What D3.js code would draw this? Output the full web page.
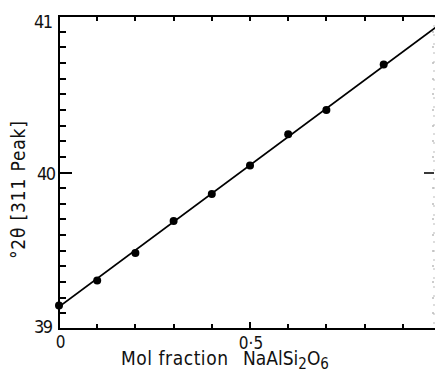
<!DOCTYPE html>
<html>
<head>
<meta charset="utf-8">
<script src="https://cdn.jsdelivr.net/npm/d3@7"></script>
<style>
  body { margin: 0; background: #fff; }
  svg { display: block; }
  text { font-family: "DejaVu Sans Condensed", "DejaVu Sans", sans-serif; font-stretch: condensed; fill: #111; }
</style>
</head>
<body>
<svg width="435" height="372"></svg>
<script>
// measured points, mol fraction vs 2theta
var molFrac = [0, 0.1, 0.2, 0.3, 0.4, 0.5, 0.6, 0.7, 0.85];
var twoTheta = [39.15, 39.31, 39.486, 39.69, 39.862, 40.045, 40.244, 40.40, 40.69];

// fitted line end points
var fitX = [0, 0.985];
var fitY = [39.142, 40.925];

var xTicks = [0.1, 0.2, 0.3, 0.4, 0.5, 0.6, 0.7, 0.8, 0.9];
var yTicks = [39.1, 39.2, 39.3, 39.4, 39.5, 39.6, 39.7, 39.8, 39.9, 40,
              40.1, 40.2, 40.3, 40.4, 40.5, 40.6, 40.7, 40.8, 40.9];
var yLabels = [39, 40, 41];
var xLabels = ['0', '0\u00b75'];
var xLabelVals = [0, 0.5];

var svg = d3.select('svg'),
    w = +svg.attr('width'),
    h = +svg.attr('height');

var x = d3.scaleLinear().domain([0, 1]).range([59, 441]),
    y = d3.scaleLinear().domain([39, 41]).range([329, 16]);

var x0 = x(0), x1 = 434, y0 = y(39), y1 = y(41);

var ink = '#000';

// left ticks, pointing in
svg.append('g').selectAll('line')
  .data(yTicks)
  .enter()
  .append('line')
  .attr('x1', x0)
  .attr('x2', function(d){ return d === 40 ? x0 + 13 : x0 + 7; })
  .attr('y1', function(d){ return Math.round(y(d)); })
  .attr('y2', function(d){ return Math.round(y(d)); })
  .attr('stroke', ink)
  .attr('stroke-width', 2);

// right side is faint in the scan
svg.append('g').selectAll('line')
  .data(yTicks)
  .enter()
  .append('line')
  .attr('x1', x1)
  .attr('x2', function(d){ return d === 40 ? x1 - 10 : x1 - 2; })
  .attr('y1', function(d){ return Math.round(y(d)); })
  .attr('y2', function(d){ return Math.round(y(d)); })
  .attr('stroke', function(d){ return d === 40 ? '#222' : '#999'; })
  .attr('stroke-width', function(d){ return d === 40 ? 1.8 : 1; });

svg.append('line')
  .attr('x1', x1).attr('x2', x1).attr('y1', y1).attr('y2', y0)
  .attr('stroke', '#bbb').attr('stroke-width', 1).attr('stroke-dasharray', '2,7');

// bottom and top ticks
svg.append('g').selectAll('line')
  .data(xTicks)
  .enter()
  .append('line')
  .attr('x1', function(d){ return Math.round(x(d)); })
  .attr('x2', function(d){ return Math.round(x(d)); })
  .attr('y1', y0)
  .attr('y2', function(d){ return d === 0.5 ? y0 - 7 : y0 - 5; })
  .attr('stroke', ink)
  .attr('stroke-width', 2);

svg.append('g').selectAll('line')
  .data(xTicks)
  .enter()
  .append('line')
  .attr('x1', function(d){ return Math.round(x(d)); })
  .attr('x2', function(d){ return Math.round(x(d)); })
  .attr('y1', y1)
  .attr('y2', y1 + 5)
  .attr('stroke', ink)
  .attr('stroke-width', 2);

// frame: left, top, bottom
svg.append('path')
  .attr('d', 'M' + w + ',' + y1 + 'H' + x0 + 'V' + y0 + 'H' + w)
  .attr('fill', 'none')
  .attr('stroke', ink)
  .attr('stroke-width', 2);

// fit line
svg.append('defs').append('clipPath').attr('id', 'clip')
  .append('rect').attr('x', x0).attr('y', y1).attr('width', w - x0).attr('height', y0 - y1);

svg.append('line')
  .attr('clip-path', 'url(#clip)')
  .attr('x1', x(fitX[0])).attr('y1', y(fitY[0]))
  .attr('x2', x(fitX[1])).attr('y2', y(fitY[1]))
  .attr('stroke', ink)
  .attr('stroke-width', 1.8);

svg.selectAll('circle.pt')
  .data(molFrac)
  .enter()
  .append('circle')
  .attr('class', 'pt')
  .attr('cx', function(d){ return x(d); })
  .attr('cy', function(d, i){ return y(twoTheta[i]); })
  .attr('r', 4)
  .attr('fill', ink);

// tick labels
svg.selectAll('text.yl')
  .data(yLabels)
  .enter()
  .append('text')
  .attr('class', 'yl')
  .attr('x', function(d){ return d === 40 ? x0 - 3 : x0 - 6; })
  .attr('y', function(d){ return d === 41 ? y(d) + 12 : d === 39 ? y(d) + 4 : y(d) + 7; })
  .attr('text-anchor', 'end')
  .attr('textLength', 19)
  .attr('lengthAdjust', 'spacing')
  .style('font-size', '18px')
  .text(function(d){ return d; });

svg.selectAll('text.xl')
  .data(xLabels)
  .enter()
  .append('text')
  .attr('class', 'xl')
  .attr('x', function(d, i){ return x(xLabelVals[i]) + (i === 0 ? 1.5 : 1); })
  .attr('y', function(d, i){ return i === 0 ? y0 + 19 : y0 + 20; })
  .attr('text-anchor', 'middle')
  .style('font-size', '17px')
  .text(function(d){ return d; });

// axis titles
svg.append('text')
  .attr('x', 121)
  .attr('y', 365)
  .attr('textLength', 107)
  .attr('lengthAdjust', 'spacing')
  .style('font-size', '19px')
  .text('Mol fraction');

var xt = svg.append('text')
  .attr('x', 243)
  .attr('y', 365)
  .style('font-size', '19px');
xt.append('tspan').text('NaAlSi');
xt.append('tspan').attr('dy', 4).style('font-size', '15px').text('2');
xt.append('tspan').attr('dy', -4).text('O');
xt.append('tspan').attr('dy', 4).style('font-size', '15px').text('6');

svg.append('text')
  .attr('transform', 'translate(25,190) rotate(-90)')
  .attr('text-anchor', 'middle')
  .attr('textLength', 138)
  .attr('lengthAdjust', 'spacing')
  .style('font-size', '19px')
  .text('\u00b02\u03b8 [311 Peak]');
</script>
</body>
</html>
